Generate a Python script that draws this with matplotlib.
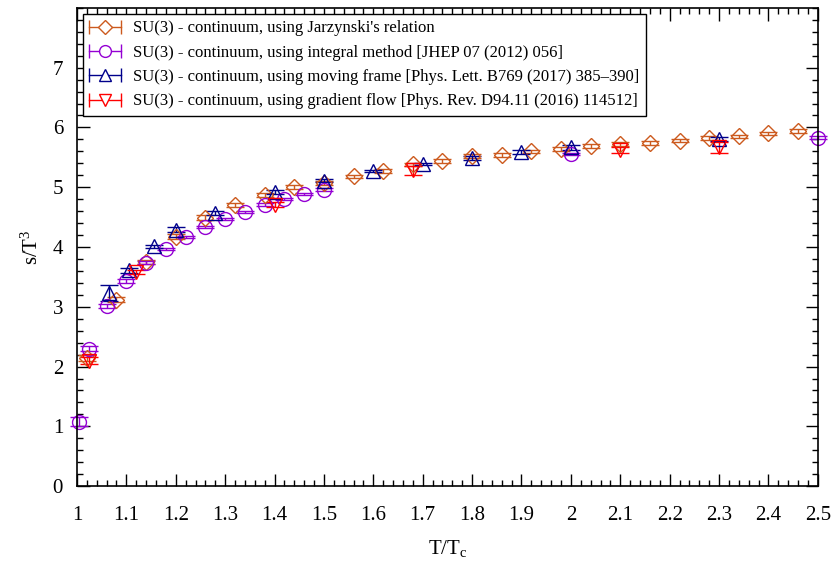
import numpy as np
import matplotlib
matplotlib.use("Agg")
import matplotlib.pyplot as plt
from matplotlib.lines import Line2D
from matplotlib.legend_handler import HandlerBase
from matplotlib.ticker import MultipleLocator

plt.rcParams['font.family'] = ['Liberation Serif', 'DejaVu Serif']
plt.rcParams['mathtext.default'] = 'regular'

# ---- data ----
jar_x = [1.02, 1.08, 1.14, 1.20, 1.26, 1.32, 1.38, 1.44, 1.50, 1.56, 1.62, 1.68,
         1.74, 1.80, 1.86, 1.92, 1.98, 2.04, 2.10, 2.16, 2.22, 2.28, 2.34, 2.40, 2.46]
jar_y = [2.15, 3.12, 3.75, 4.17, 4.49, 4.70, 4.87, 5.00, 5.07, 5.18, 5.27, 5.38,
         5.44, 5.52, 5.54, 5.60, 5.64, 5.69, 5.72, 5.74, 5.78, 5.82, 5.85, 5.90, 5.94]
jar_e = [0.05, 0.04, 0.04, 0.04, 0.04, 0.03, 0.03, 0.03, 0.03, 0.03, 0.03, 0.03,
         0.03, 0.03, 0.03, 0.03, 0.03, 0.03, 0.03, 0.03, 0.03, 0.03, 0.03, 0.03, 0.03]

int_x = [1.005, 1.025, 1.06, 1.10, 1.14, 1.18, 1.22, 1.26, 1.30, 1.34, 1.38, 1.42,
         1.46, 1.50, 2.00, 2.50]
int_y = [1.08, 2.30, 3.01, 3.43, 3.74, 3.97, 4.17, 4.33, 4.47, 4.59, 4.71, 4.80,
         4.89, 4.96, 5.56, 5.83]
int_e = [0.08, 0.04, 0.03, 0.03, 0.03, 0.02, 0.02, 0.02, 0.02, 0.02, 0.02, 0.02,
         0.02, 0.02, 0.02, 0.02]

mov_x = [1.065, 1.105, 1.155, 1.20, 1.28, 1.40, 1.50, 1.60, 1.70, 1.80, 1.90, 2.00, 2.30]
mov_y = [3.23, 3.61, 4.01, 4.29, 4.57, 4.92, 5.11, 5.27, 5.39, 5.49, 5.59, 5.67, 5.81]
mov_e = [0.14, 0.04, 0.03, 0.04, 0.03, 0.04, 0.03, 0.02, 0.02, 0.03, 0.03, 0.04, 0.03]

gf_x = [1.025, 1.12, 1.40, 1.68, 2.10, 2.30]
gf_y = [2.10, 3.58, 4.71, 5.28, 5.63, 5.67]
gf_e = [0.06, 0.04, 0.04, 0.07, 0.05, 0.09]

labels = ["SU(3) - continuum, using Jarzynski's relation",
          "SU(3) - continuum, using integral method [JHEP 07 (2012) 056]",
          "SU(3) - continuum, using moving frame [Phys. Lett. B769 (2017) 385\u2013390]",
          "SU(3) - continuum, using gradient flow [Phys. Rev. D94.11 (2016) 114512]"]

c_jar = '#cc5a1e'
c_int = '#9400d3'
c_mov = '#00008b'
c_gf = '#ff0000'


# gnuplot-like legend sample: |--marker--|
class HandlerGnuErr(HandlerBase):
    def create_artists(self, legend, orig, xd, yd, w, h, fontsize, trans):
        y = yd + h / 2.0
        col = orig.get_color()
        line = Line2D([xd, xd + w], [y, y], color=col, lw=1.0)
        caps = Line2D([xd, xd + w], [y, y], color=col, lw=0, marker='|',
                      markersize=10, markeredgewidth=1.0)
        mk = Line2D([xd + w / 2.0], [y], color=col, lw=0, marker=orig.get_marker(),
                    markersize=orig.get_markersize(), markerfacecolor='white',
                    markeredgecolor=col, markeredgewidth=1.0)
        for a in (line, caps, mk):
            a.set_transform(trans)
        return [line, caps, mk]


fig = plt.figure(figsize=(8.32, 5.62), dpi=100)
ax = fig.add_axes([0.0925, 0.135, 0.8905, 0.851])

series = [(jar_x, jar_y, jar_e, c_jar, 'D', 8),
          (int_x, int_y, int_e, c_int, 'o', 10),
          (mov_x, mov_y, mov_e, c_mov, '^', 9.5),
          (gf_x, gf_y, gf_e, c_gf, 'v', 9.5)]

handles = []
for x, y, e, c, m, ms in series:
    ax.errorbar(x, y, yerr=e, fmt=m, color=c, ms=ms, mfc='none', mec=c, mew=1.0,
                elinewidth=1.0, capsize=6.5, capthick=1.0, clip_on=False)
    handles.append(Line2D([], [], color=c, marker=m, markersize=ms * 0.85))

ax.set_xlim(1.0, 2.5)
ax.set_ylim(0, 8)
ax.set_xticks(np.arange(1.0, 2.51, 0.1))
ax.set_xticklabels(['1', '1.1', '1.2', '1.3', '1.4', '1.5', '1.6', '1.7', '1.8', '1.9',
                    '2', '2.1', '2.2', '2.3', '2.4', '2.5'])
ax.set_yticks(range(0, 8))
ax.xaxis.set_minor_locator(MultipleLocator(0.02))
ax.yaxis.set_minor_locator(MultipleLocator(0.2))
ax.tick_params(which='both', direction='in', top=True, right=True, labelsize=15,
               width=1.0, colors='black')
ax.tick_params(axis='x', which='major', length=9, pad=14)
ax.tick_params(axis='y', which='major', length=9, pad=10)
ax.tick_params(which='minor', length=4.5)
for s in ax.spines.values():
    s.set_linewidth(1.2)

ax.set_xlabel('T/T$_c$', fontsize=15, labelpad=10)
ax.set_ylabel('s/T$^3$', fontsize=15, labelpad=7)

leg = ax.legend(handles, labels, loc='upper left', fontsize=12, frameon=True,
                fancybox=False, edgecolor='black', framealpha=1,
                handler_map={Line2D: HandlerGnuErr()}, handlelength=1.9,
                handletextpad=0.7, borderaxespad=0.35, labelspacing=0.5,
                bbox_to_anchor=(0.0, 1.0))
leg.get_frame().set_linewidth(1.0)

fig.savefig('out.png', dpi=100)
